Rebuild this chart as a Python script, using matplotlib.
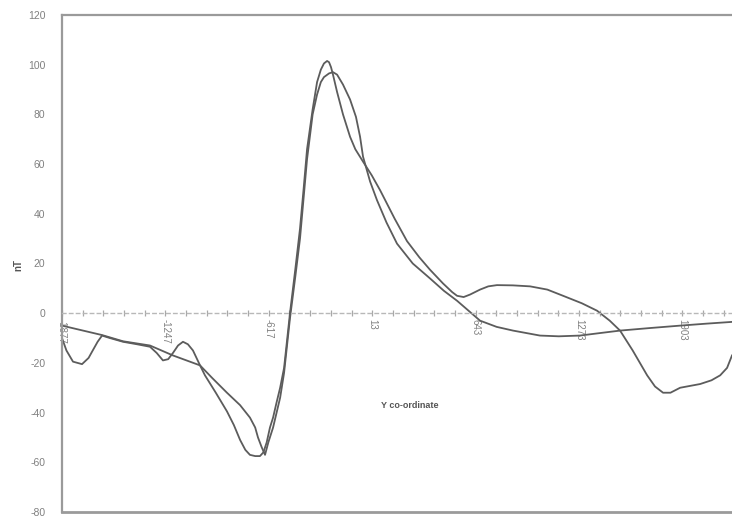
import matplotlib
matplotlib.use("Agg")
import matplotlib.pyplot as plt
import numpy as np

plt.rcParams['font.family'] = ['Liberation Sans', 'DejaVu Sans']

# Curve A (wiggly at left, flat-bottom trough, sharp peak, bump on right)
xa = [-1877, -1850, -1810, -1755, -1715, -1694, -1660, -1633, -1585, -1505,
      -1420, -1341, -1300, -1262, -1230, -1201, -1170, -1140, -1110, -1079,
      -1036, -1006, -940, -872, -830, -792, -760, -732, -700, -671, -650,
      -630, -610, -591, -570, -548, -524, -488, -455, -427, -405, -384,
      -350, -323, -300, -281, -262, -250, -238, -226, -201, -165, -122,
      -90, -43, 10, 61, 150, 225, 300, 365, 444, 500, 530, 570, 609, 670,
      720, 773, 870, 975, 1080, 1176, 1290, 1383, 1460, 1523, 1600, 1688,
      1736, 1785, 1830, 1889, 2011, 2080, 2133, 2175, 2205]
ya = [-10, -15, -19.5, -20.5, -18, -15.5, -11.5, -9, -10, -11.5,
      -12.5, -13.5, -16, -19, -18.5, -16, -13, -11.5, -12.5, -15,
      -21, -25, -32, -39.5, -45, -51, -55, -57, -57.5, -57.5, -56,
      -52, -46, -42, -36, -30, -22, 0, 18, 34, 50, 66,
      82, 93, 98, 100.5, 101.5, 101, 99, 96, 89, 80, 71,
      66, 61, 55.5, 49.5, 38, 29, 22.5, 17.5, 12, 8.5, 7, 6.5, 7.5, 9.5,
      10.8, 11.3, 11.2, 10.8, 9.5, 7, 4, 1, -3, -7, -15, -25,
      -29.5, -32, -32, -30, -28.5, -27, -25, -22, -17]

# Curve B (smooth at left, V-shaped trough, rounded peak, flat on right)
xb = [-1877, -1633, -1505, -1341, -1201, -1036, -963, -872, -792, -732,
      -700, -683, -660, -640, -620, -591, -548, -524, -488, -455, -427,
      -384, -350, -323, -300, -281, -250, -226, -201, -165, -122, -86,
      -61, -43, 0, 42, 100, 164, 260, 365, 450, 530, 600, 670, 771, 871,
      1035, 1150, 1279, 1400, 1523, 1700, 1889, 2050, 2205]
yb = [-5, -8.8, -11.3, -13, -17, -21, -26, -32, -37, -42,
      -46, -50, -54, -57, -52, -46, -34, -24, -2, 15, 30,
      62, 80, 88, 93, 95, 96.5, 97, 96, 92, 86, 79,
      71, 63, 53, 45.5, 36.5, 28, 20, 14, 9, 5, 1, -3, -5.5, -7,
      -9, -9.3, -9, -8, -7, -6, -5, -4.2, -3.5]

x_tick_labels = ['-1877', '-1247', '-617', '13', '643', '1273', '1903']
x_label_pos = [-1877, -1247, -617, 13, 643, 1273, 1903]
y_ticks = [-80, -60, -40, -20, 0, 20, 40, 60, 80, 100, 120]

GRAY = '#9a9a9a'
TXT = '#808080'
LINE = '#5c5c5c'

fig = plt.figure(figsize=(7.32, 5.16), dpi=100)
ax = fig.add_axes([62/732, 1-512/516, 1-62/732, (512-15)/516])

ax.plot(xa, ya, color=LINE, lw=1.3)
ax.plot(xb, yb, color=LINE, lw=1.3)

ax.set_xlim(-1877, 2205)
ax.set_ylim(-80, 120)

for s in ['top', 'left']:
    ax.spines[s].set_color(GRAY)
    ax.spines[s].set_linewidth(1.6)
ax.spines['right'].set_visible(False)
ax.spines['bottom'].set_position(('data', 0))
ax.spines['bottom'].set_color('#b8b8b8')
ax.spines['bottom'].set_linewidth(1.0)
ax.spines['bottom'].set_linestyle((0, (2.5, 2.5)))
ax.axhline(-80, color=GRAY, lw=2.0, clip_on=False)

minor_ticks = [v for v in np.arange(-1877, 2205, 126)]
ax.set_xticks(minor_ticks)
lbls = [x_tick_labels[x_label_pos.index(v)] if v in x_label_pos else '' for v in minor_ticks]
ax.set_xticklabels(lbls, rotation=270, fontsize=7, color=TXT)
ax.tick_params(axis='x', direction='inout', length=5, width=0.9, color='#a8a8a8', pad=2)

ax.set_yticks(y_ticks)
ax.set_yticklabels([str(v) for v in y_ticks], fontsize=7.5, color=TXT)
ax.tick_params(axis='y', length=0, pad=12)

fig.text(18/732, 1-265/516, 'nT', rotation=90, fontsize=7, color='#555555',
         fontweight='bold', ha='center', va='center')
ax.text((410-62)/670, (512-405)/497, 'Y co-ordinate', transform=ax.transAxes,
        fontsize=6.5, color='#555555', fontweight='bold', ha='center', va='center')

fig.savefig('out.png', dpi=100)
